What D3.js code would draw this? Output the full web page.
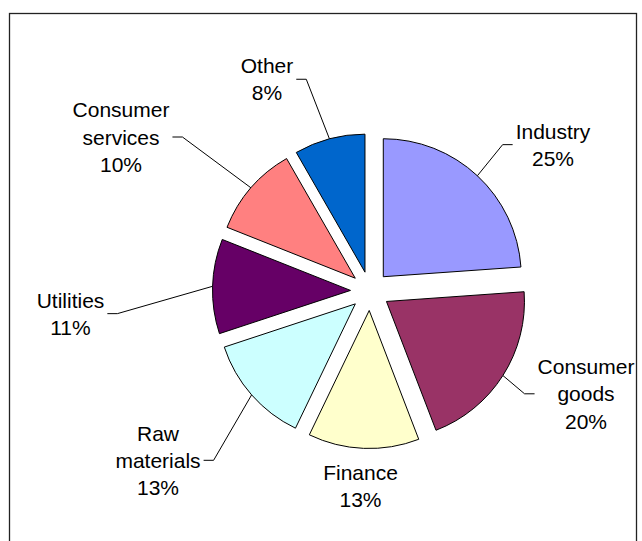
<!DOCTYPE html>
<html>
<head>
<meta charset="utf-8">
<script src="https://cdn.jsdelivr.net/npm/d3@7"></script>
<style>
	html, body { margin: 0; padding: 0; background: #fff; }
	svg { display: block; }
	text { font-family: Arial, "Liberation Sans", sans-serif; font-size: 21px; fill: #000; }
</style>
</head>
<body>
<div id="chart"></div>
<script>
'use strict';

// slice data (share of the whole)
var categories = ['Industry', 'Consumer goods', 'Finance', 'Raw materials', 'Utilities', 'Consumer services', 'Other'];
var shares = [23.9, 20.3, 13.0, 12.8, 11.1, 10.7, 8.3];
var shownPercents = ['25%', '20%', '13%', '13%', '11%', '10%', '8%'];
var colors = ['#9999ff', '#993366', '#ffffcc', '#ccffff', '#660066', '#ff8080', '#0066cc'];

// label placement (centre x, centre y of first line) and leader flag
var labelLayout = [
	{x: 553, y: 131, leader: true},
	{x: 586, y: 366.5, leader: true},
	{x: 360.5, y: 472, leader: false},
	{x: 158, y: 433, leader: true},
	{x: 70.5, y: 300, leader: true},
	{x: 121, y: 109.7, leader: true},
	{x: 267, y: 65.6, leader: true}
];

var W = 642, H = 541,
	cx = 370, cy = 291,
	radius = 138,
	explode = 19.5,
	lineGap = 27.3;

var svg = d3.select('#chart').append('svg')
	.attr('width', W)
	.attr('height', H);

// chart area border
svg.append('rect')
	.attr('x', 9.5)
	.attr('y', 13.5)
	.attr('width', 627)
	.attr('height', 600)
	.attr('fill', '#fff')
	.attr('stroke', '#222')
	.attr('stroke-width', 1.3);

var pie = d3.pie().sort(null).value(function(d) { return d; });
var arcs = pie(shares);

var arc = d3.arc().innerRadius(0).outerRadius(radius);

function mid(a) {
	return (a.startAngle + a.endAngle) / 2;
}

function offset(a, dist) {
	var m = mid(a);
	return [Math.sin(m) * dist, -Math.cos(m) * dist];
}

var g = svg.append('g').attr('transform', 'translate(' + cx + ',' + cy + ')');

g.selectAll('path.slice')
	.data(arcs)
	.enter()
	.append('path')
	.attr('class', 'slice')
	.attr('d', arc)
	.attr('transform', function(d) {
		var o = offset(d, explode);
		return 'translate(' + o[0] + ',' + o[1] + ')';
	})
	.attr('fill', function(d, i) { return colors[i]; })
	.attr('stroke', '#000')
	.attr('stroke-width', 1)
	.attr('stroke-linejoin', 'miter');

// labels
var labels = svg.selectAll('g.label')
	.data(arcs)
	.enter()
	.append('g')
	.attr('class', 'label');

labels.each(function(d, i) {
	var lay = labelLayout[i],
		lines = categories[i].split(' ').concat([shownPercents[i]]),
		grp = d3.select(this),
		maxW = 0;

	lines.forEach(function(line, k) {
		var t = grp.append('text')
			.attr('x', lay.x)
			.attr('y', lay.y + k * lineGap + 7.5)
			.attr('text-anchor', 'middle')
			.text(line);
		maxW = Math.max(maxW, t.node().getComputedTextLength());
	});

	if (!lay.leader) {
		return;
	}

	// leader: arc midpoint -> elbow -> label edge
	var o = offset(d, explode + radius),
		px = cx + o[0],
		py = cy + o[1],
		side = lay.x < px ? 1 : -1,
		midY = lay.y + (lines.length - 1) * lineGap / 2,
		edgeX = lay.x + side * (maxW / 2 + 3),
		elbowX = edgeX + side * 10;

	grp.append('path')
		.attr('d', d3.line()([[px, py], [elbowX, midY], [edgeX, midY]]))
		.attr('fill', 'none')
		.attr('stroke', '#000')
		.attr('stroke-width', 1);
});
</script>
</body>
</html>
